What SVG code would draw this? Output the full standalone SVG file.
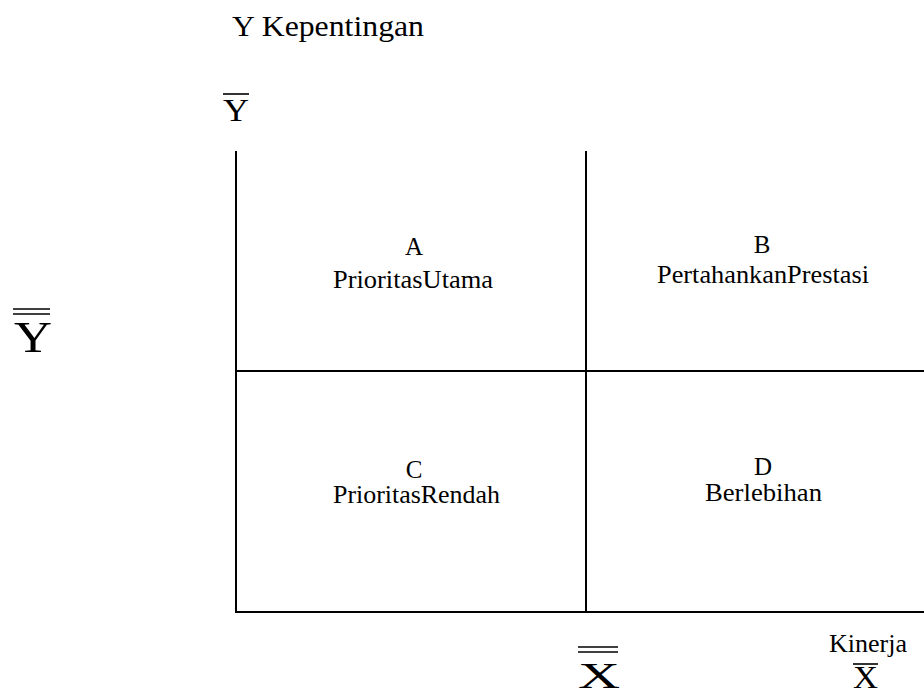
<svg xmlns="http://www.w3.org/2000/svg" width="924" height="695" viewBox="0 0 924 695">
<style>
text{font-family:"Liberation Serif","Times New Roman",serif;fill:#000}
.q{font-size:25px;text-anchor:middle}
.ln{stroke:#000;stroke-width:2;fill:none}
.bar{stroke:#000;stroke-width:1.6}
</style>
<rect width="924" height="695" fill="#fff"/>
<g id="grid">
<line class="ln" x1="236" y1="151" x2="236" y2="612"/>
<line class="ln" x1="586" y1="151" x2="586" y2="612"/>
<line class="ln" x1="235" y1="371" x2="924" y2="371"/>
<line class="ln" x1="235" y1="612" x2="924" y2="612"/>
</g>
<g id="title"><text x="232" y="36" font-size="30" textLength="192" lengthAdjust="spacingAndGlyphs">Y Kepentingan</text></g>
<g id="ybar">
<line class="bar" x1="223" y1="94" x2="249" y2="94"/>
<text x="223" y="121" font-size="31" textLength="26" lengthAdjust="spacingAndGlyphs">Y</text>
</g>
<g id="ydbar">
<line class="bar" x1="13" y1="309" x2="50" y2="309"/>
<line class="bar" x1="13" y1="314" x2="50" y2="314"/>
<text x="14" y="352" font-size="45" textLength="38" lengthAdjust="spacingAndGlyphs">Y</text>
</g>
<g id="xdbar">
<line class="bar" x1="578" y1="647" x2="618" y2="647"/>
<line class="bar" x1="578" y1="652" x2="618" y2="652"/>
<text x="578" y="688" font-size="36" textLength="42" lengthAdjust="spacingAndGlyphs">X</text>
</g>
<g id="kinerja">
<text x="829" y="652" font-size="25" textLength="78" lengthAdjust="spacingAndGlyphs">Kinerja</text>
<line class="bar" x1="853" y1="664" x2="878" y2="664"/>
<text x="853" y="688" font-size="31" textLength="25" lengthAdjust="spacingAndGlyphs">X</text>
</g>
<g id="A">
<text class="q" x="414" y="255">A</text>
<text x="333" y="288" font-size="25" textLength="160" lengthAdjust="spacingAndGlyphs">PrioritasUtama</text>
</g>
<g id="B">
<text class="q" x="762" y="253">B</text>
<text x="657" y="283" font-size="25" textLength="212" lengthAdjust="spacingAndGlyphs">PertahankanPrestasi</text>
</g>
<g id="C">
<text class="q" x="414" y="478">C</text>
<text x="333" y="503" font-size="25" textLength="167" lengthAdjust="spacingAndGlyphs">PrioritasRendah</text>
</g>
<g id="D">
<text class="q" x="763" y="475">D</text>
<text x="705" y="501" font-size="25" textLength="117" lengthAdjust="spacingAndGlyphs">Berlebihan</text>
</g>
</svg>
